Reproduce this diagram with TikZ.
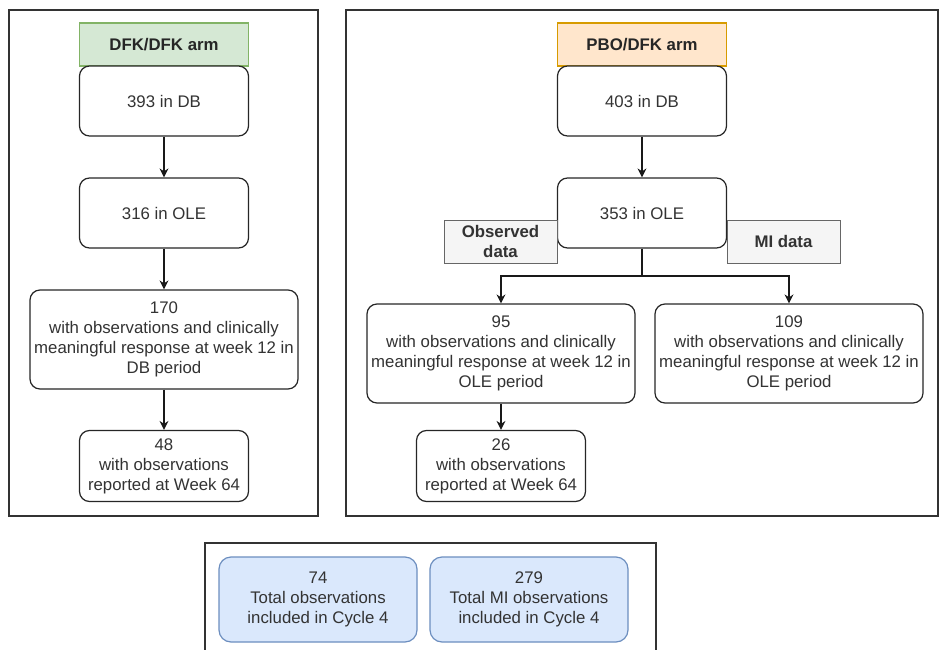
\documentclass[tikz,border=0pt]{standalone}
\usepackage{fontspec}
\setmainfont{Liberation Sans}
\usetikzlibrary{arrows.meta}
\definecolor{txt}{HTML}{333333}
\definecolor{gfill}{HTML}{D5E8D4}
\definecolor{gline}{HTML}{82B366}
\definecolor{ofill}{HTML}{FFE6CC}
\definecolor{oline}{HTML}{D79B00}
\definecolor{sfill}{HTML}{F5F5F5}
\definecolor{sline}{HTML}{666666}
\definecolor{bfill}{HTML}{DAE8FC}
\definecolor{bline}{HTML}{6C8EBF}
\begin{document}
\begin{tikzpicture}[x=1pt,y=-1pt,
  font=\fontsize{16.8}{20}\selectfont,
  frame/.style={draw=black!80, line width=1.3pt},
  box/.style={draw=black!85, line width=1.2pt, rounded corners=10pt, fill=white,
    minimum width=169pt, minimum height=70pt, inner sep=0pt, align=center, text=txt},
  wide/.style={box, minimum width=268pt, minimum height=99pt},
  hdr/.style={line width=1.2pt, minimum width=169pt, minimum height=43pt, inner sep=0pt,
    font=\fontsize{16.8}{20}\selectfont\bfseries, text=black!85},
  tag/.style={draw=sline, fill=sfill, line width=1pt, minimum height=43pt, inner sep=0pt,
    align=center, font=\fontsize{16.8}{20}\selectfont\bfseries, text=txt},
  tot/.style={draw=bline, fill=bfill, line width=1.2pt, rounded corners=12pt,
    minimum width=198pt, minimum height=85pt, inner sep=0pt, align=center, text=txt},
  arr/.style={draw=black!90, line width=1.4pt, -{Stealth[length=9pt,width=9pt]}},
  ln/.style={draw=black!90, line width=1.4pt}]
\useasboundingbox (0,0) rectangle (939,650);
\clip (0,0) rectangle (939,650);
% frames
\draw[frame] (9,10) rectangle (318,516);
\draw[frame] (346,10) rectangle (938,516);
\draw[frame] (205,543) rectangle (656,665);
% left arm
\node[hdr, draw=gline, fill=gfill] (h1) at (164,44.5) {DFK/DFK arm};
\node[box] (a1) at (164,101) {393 in DB};
\node[box] (a2) at (164,213) {316 in OLE};
\node[wide] (a3) at (164,339.5) {170\\with observations and clinically\\meaningful response at week 12 in\\DB period};
\node[box, minimum height=71pt] (a4) at (164,466) {48\\with observations\\reported at Week 64};
% right arm
\node[hdr, draw=oline, fill=ofill] (h2) at (642,44.5) {PBO/DFK arm};
\node[box] (b1) at (642,101) {403 in DB};
\node[box] (b2) at (642,213) {353 in OLE};
\node[tag, minimum width=113pt] (obs) at (500.5,241.5) {Observed\\data};
\node[tag, minimum width=113pt] (mi) at (783.5,241.5) {MI data};
\node[wide] (b3) at (501,353.5) {95\\with observations and clinically\\meaningful response at week 12 in\\OLE period};
\node[wide] (b4) at (789,353.5) {109\\with observations and clinically\\meaningful response at week 12 in\\OLE period};
\node[box, minimum height=71pt] (b5) at (501,466) {26\\with observations\\reported at Week 64};
% totals
\node[tot] (c1) at (318,599.5) {74\\Total observations\\included in Cycle 4};
\node[tot] (c2) at (529,599.5) {279\\Total MI observations\\included in Cycle 4};
% connectors
\draw[arr] (a1) -- (a2);
\draw[arr] (a2) -- (a3);
\draw[arr] (a3) -- (a4);
\draw[arr] (b1) -- (b2);
\coordinate (split) at (642,276);
\draw[ln] (b2) -- (split);
\draw[arr] (split) -| (b3);
\draw[arr] (split) -| (b4);
\draw[arr] (b3) -- (b5);
\end{tikzpicture}
\end{document}
